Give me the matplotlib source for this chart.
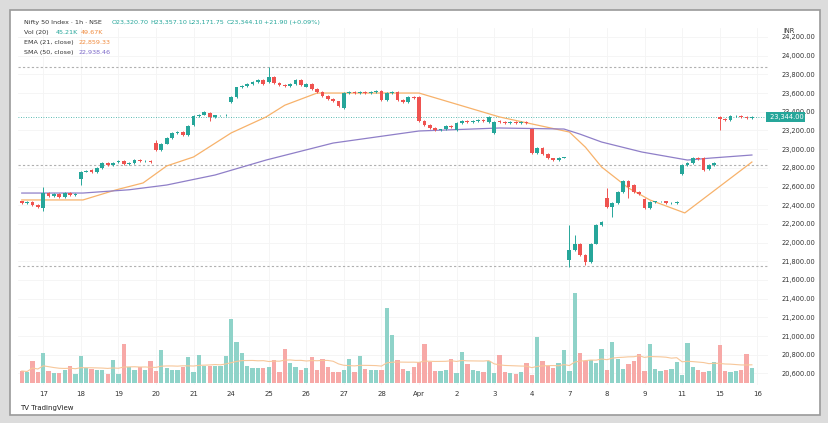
import matplotlib
matplotlib.use("Agg")
import matplotlib.pyplot as plt
import numpy as np
import pandas as pd
from matplotlib.patches import Rectangle

day_labels = ["17","18","19","20","21","24","25","26","27","28","Apr","2","3","4","7","8","9","11","15","16"]
day_starts = [4,11,18,25,32,39,46,53,60,67,74,81,88,95,102,109,116,123,130,137]

opens = [22440,22420,22430,22400,
 22370,22530,22500,22520,22490,22530,22510,
 22680,22760,22780,22750,22800,22850,22830,
 22860,22870,22840,22850,22880,22870,22870,
 23070,22990,23060,23120,23170,23180,23150,
 23260,23350,23370,23390,23340,23360,23360,
 23500,23560,23660,23680,23700,23720,23740,
 23720,23770,23710,23690,23680,23700,23740,
 23670,23700,23640,23610,23570,23540,23510,
 23440,23600,23610,23600,23610,23600,23610,
 23620,23530,23600,23610,23530,23500,23560,
 23560,23300,23260,23230,23200,23210,23250,
 23200,23280,23300,23290,23300,23310,23290,
 23170,23300,23290,23280,23290,23280,23290,
 23210,22960,23010,22950,22900,22880,22910,
 21815,21920,21990,21865,21790,21990,22190,
 22480,22380,22425,22540,22660,22620,22540,
 22470,22370,22435,22440,22440,22420,22420,
 22735,22830,22850,22905,22910,22790,22830,
 23345,23320,23310,23350,23355,23345,23330]
closes = [22420,22430,22400,22380,
 22530,22500,22520,22490,22530,22510,22520,
 22760,22770,22750,22800,22850,22830,22850,
 22870,22840,22850,22880,22870,22870,22860,
 22990,23060,23120,23170,23180,23150,23250,
 23350,23370,23400,23340,23360,23360,23370,
 23560,23660,23680,23700,23720,23740,23700,
 23770,23710,23690,23680,23700,23740,23690,
 23700,23640,23610,23570,23540,23510,23460,
 23600,23610,23600,23610,23600,23610,23620,
 23530,23600,23610,23530,23500,23560,23550,
 23300,23260,23230,23200,23210,23250,23240,
 23280,23300,23290,23300,23310,23300,23345,
 23290,23290,23280,23290,23280,23290,23280,
 22960,23010,22950,22900,22880,22910,22910,
 21920,21990,21865,21790,21990,22190,22220,
 22380,22425,22540,22660,22595,22540,22520,
 22370,22435,22440,22440,22420,22420,22430,
 22830,22850,22905,22890,22780,22830,22850,
 23320,23310,23350,23355,23345,23330,23344]
wick_highs = {4:22600, 25:23100, 46:23880, 102:22190, 103:22080, 109:22585}
wick_lows = {4:22340, 11:22620, 35:23300, 102:21740, 105:21760, 110:22274, 113:22480, 130:23200}

volumes = [12,11,22,11,
 30,12,10,10,13,17,9,
 27,15,14,13,13,9,23,
 9,39,16,13,16,13,22,
 12,33,15,13,13,16,26,
 11,28,17,17,17,17,27,
 64,41,30,17,15,15,15,
 16,23,11,34,20,16,13,
 15,26,13,24,16,11,11,
 13,24,11,27,14,13,13,
 13,75,48,23,14,12,16,
 21,39,21,12,12,13,24,
 10,31,19,13,12,11,22,
 10,28,11,10,9,11,20,
 8,46,22,17,15,20,33,
 12,90,30,22,23,20,34,
 13,41,24,14,19,22,29,
 12,39,14,12,13,14,21,
 8,40,16,13,11,12,21,
 38,12,11,12,13,29,15]

ema_idx = [0,11.4,17.5,22.6,27,32,39,45.5,49,55,74,89,102,105,108,113,117,123.5,136]
ema_val = [22456,22456,22563,22638,22820,22916,23173,23344,23470,23600,23600,23344,23183,23020,22809,22584,22456,22317,22862]
sma_idx = [0,11.4,20,27,36,45.5,58,74,89,101,104,108,115.5,124,128.5,136]
sma_val = [22530,22530,22565,22616,22723,22883,23065,23194,23226,23215,23160,23076,22969,22883,22905,22937]

price_ticks = list(range(24200, 20599, -200))

UP = "#26a69a"; DN = "#ef5350"; VUP = "#8fd3c9"; VDN = "#f7a9a7"

fig = plt.figure(figsize=(8.29, 4.23), dpi=100)
fig.patch.set_facecolor("#dcdcdc")
fig.patches.append(Rectangle((10/829, 8/423), 810/829, 405/423, transform=fig.transFigure,
                             facecolor="white", edgecolor="#9a9a9a", lw=1.2, zorder=-5))

ax = fig.add_axes([18/829, 1-385/423, 750/829, (385-28)/423])
ax.set_facecolor("none")
n = len(closes)
x = np.arange(n)
ax.set_xlim(-0.7, 139)
ax.set_ylim(20476, 24296)

for p in price_ticks:
    ax.axhline(p, color="#f4f4f4", lw=0.6, zorder=0)
for s in day_starts:
    ax.axvline(s, color="#f4f4f4", lw=0.6, zorder=0)
for p in [23880, 22830, 21750]:
    ax.axhline(p, color="#b0b0b0", lw=0.8, ls=(0, (2, 2)), zorder=1)
ax.axhline(closes[-1], color=UP, lw=0.6, ls=(0, (1, 2)), zorder=1)

for i in range(n):
    o, c = opens[i], closes[i]
    col = UP if c >= o else DN
    hi = wick_highs.get(i, max(o, c) + 10)
    lo = wick_lows.get(i, min(o, c) - 10)
    ax.vlines(i, lo, hi, color=col, lw=0.7, zorder=3)
    ax.bar(i, max(abs(c - o), 6), bottom=min(o, c), width=0.7, color=col, zorder=3)

ax.plot(ema_idx, ema_val, color="#f7b26b", lw=0.9, zorder=2)
ax.plot(sma_idx, sma_val, color="#8f7fc8", lw=0.9, zorder=2)

ax2 = ax.twinx()
ax2.set_ylim(-2, 355)
vcols = [VUP if closes[i] >= opens[i] else VDN for i in range(n)]
ax2.bar(x, volumes, width=0.8, color=vcols, zorder=2)
vma = pd.Series(volumes).rolling(20, min_periods=1).mean()
ax2.plot(x, vma, color="#f7c79a", lw=0.8, zorder=3)
ax2.set_yticks([])

for a in (ax, ax2):
    for sp in a.spines.values():
        sp.set_visible(False)

ax.yaxis.tick_right()
ax.set_yticks(price_ticks)
ax.set_yticklabels([f"{p:,.2f}" for p in price_ticks], fontsize=4.8, color="#333333")
ax.tick_params(axis="y", length=0, pad=10)
ax.set_xticks(day_starts)
ax.set_xticklabels(day_labels, fontsize=5, color="#333333")
ax.tick_params(axis="x", length=0, pad=4)

ax.text(1.02, 0.985, "INR", transform=ax.transAxes, fontsize=4.8, color="#333333")
ax.text(1.0, (closes[-1]-20476)/(24296-20476), f" {closes[-1]:,.2f}", transform=ax.transAxes,
        fontsize=4.8, color="white", va="center", zorder=10,
        bbox=dict(boxstyle="square,pad=0.25", fc=UP, ec="none"))

fs = 4.6
def line(y, parts):
    xx = 24/829
    for t, c in parts:
        fig.text(xx, y, t, fontsize=fs, color=c)
        xx += len(t) * 0.0040 + 0.006
line(1-24/423, [("Nifty 50 Index · 1h · NSE", "#333333"), ("O23,320.70", UP), ("H23,357.10", UP),
                ("L23,171.75", UP), ("C23,344.10", UP), ("+21.90 (+0.09%)", UP)])
line(1-34/423, [("Vol (20)", "#333333"), ("45.21K", UP), ("49.67K", "#f08a3c")])
line(1-44/423, [("EMA (21, close)", "#333333"), ("22,859.33", "#f08a3c")])
line(1-54/423, [("SMA (50, close)", "#333333"), ("22,938.46", "#7b68c8")])

fig.text(20/829, 1-410/423, "TV TradingView", fontsize=5, color="#222222")

fig.savefig("out.png", dpi=100, facecolor=fig.get_facecolor())
